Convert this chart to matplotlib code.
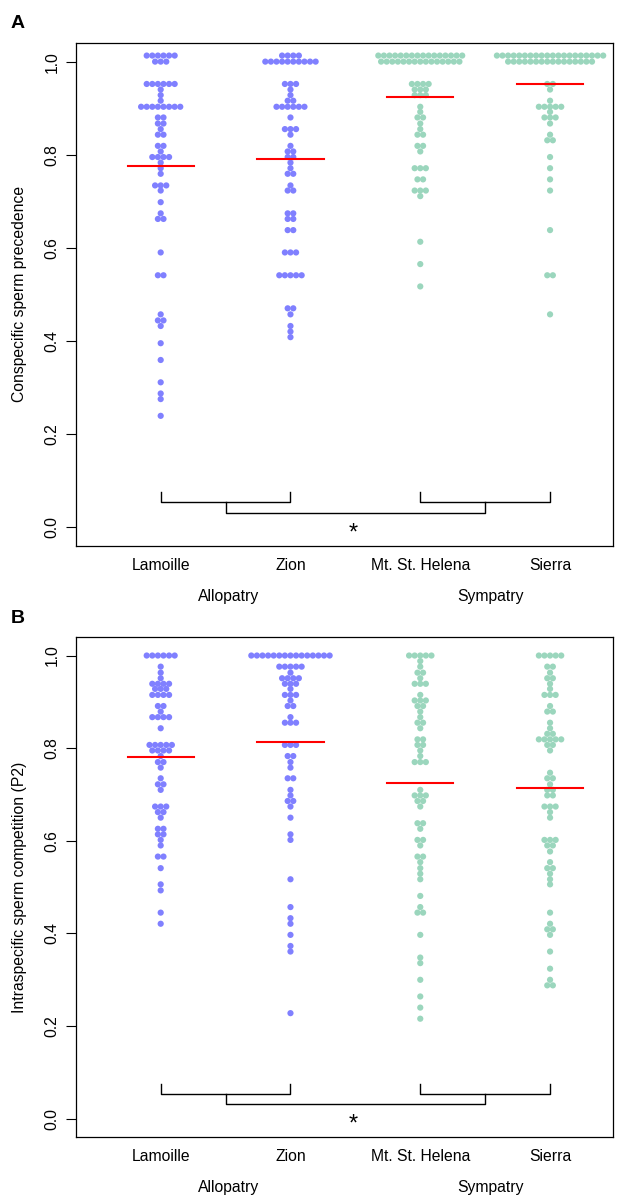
import numpy as np
import matplotlib
matplotlib.use("Agg")
import matplotlib.pyplot as plt

plt.rcParams['font.family'] = ['Liberation Sans', 'DejaVu Sans']

GROUPS = ["Lamoille", "Zion", "Mt. St. Helena", "Sierra"]
REGIONS = ["Allopatry", "Sympatry"]
BLUE = "#8080ff"
GREEN = "#9bd6bd"
COLORS = [BLUE, BLUE, GREEN, GREEN]

# Panel A - conspecific sperm precedence (y level of each swarm row, points in the row)
a_lamoille_y = [1.013, 1.000, 0.952, 0.940, 0.928, 0.916, 0.903, 0.880, 0.867, 0.855, 0.843,
                0.819, 0.807, 0.795, 0.783, 0.771, 0.759, 0.734, 0.723, 0.698, 0.674, 0.662,
                0.590, 0.541, 0.457, 0.444, 0.432, 0.395, 0.359, 0.311, 0.287, 0.275, 0.239]
a_lamoille_n = [6, 3, 6, 1, 1, 1, 8, 2, 2, 1, 2,
                2, 1, 4, 1, 1, 1, 3, 1, 1, 1, 2,
                1, 2, 1, 2, 1, 1, 1, 1, 1, 1, 1]
a_zion_y = [1.013, 1.000, 0.952, 0.940, 0.928, 0.916, 0.903, 0.880, 0.855, 0.843, 0.819,
            0.807, 0.795, 0.783, 0.771, 0.759, 0.734, 0.723, 0.674, 0.662, 0.638, 0.590,
            0.541, 0.470, 0.457, 0.432, 0.420, 0.408]
a_zion_n = [4, 10, 3, 1, 1, 2, 6, 1, 3, 1, 1,
            2, 2, 1, 1, 2, 1, 2, 2, 2, 2, 3,
            5, 2, 1, 1, 1, 1]
a_msh_y = [1.013, 1.000, 0.952, 0.940, 0.928, 0.903, 0.892, 0.880, 0.867, 0.855, 0.843,
           0.819, 0.807, 0.771, 0.747, 0.723, 0.711, 0.613, 0.565, 0.517]
a_msh_n = [16, 15, 4, 3, 3, 1, 1, 2, 1, 1, 2,
           2, 1, 3, 2, 3, 1, 1, 1, 1]
a_sierra_y = [1.013, 1.000, 0.952, 0.940, 0.916, 0.903, 0.892, 0.880, 0.867, 0.843, 0.831,
              0.795, 0.771, 0.747, 0.723, 0.638, 0.541, 0.457]
a_sierra_n = [20, 16, 2, 1, 1, 5, 1, 3, 1, 1, 2,
              1, 1, 1, 1, 1, 2, 1]
a_medians = [0.775, 0.791, 0.924, 0.951]

# Panel B - intraspecific sperm competition (P2)
b_lamoille_y = [1.000, 0.976, 0.963, 0.951, 0.939, 0.928, 0.915, 0.891, 0.879, 0.867, 0.843,
                0.807, 0.795, 0.783, 0.770, 0.758, 0.735, 0.722, 0.710, 0.674, 0.662, 0.650,
                0.626, 0.614, 0.602, 0.590, 0.566, 0.541, 0.506, 0.493, 0.445, 0.421]
b_lamoille_n = [6, 1, 1, 1, 4, 3, 4, 2, 1, 4, 1,
                5, 4, 1, 2, 1, 1, 2, 1, 3, 2, 1,
                2, 2, 1, 1, 2, 1, 1, 1, 1, 1]
b_zion_y = [1.000, 0.976, 0.963, 0.951, 0.939, 0.928, 0.915, 0.903, 0.891, 0.867, 0.855,
            0.807, 0.783, 0.770, 0.758, 0.735, 0.710, 0.698, 0.686, 0.674, 0.650, 0.614,
            0.602, 0.517, 0.457, 0.433, 0.421, 0.397, 0.373, 0.361, 0.228]
b_zion_n = [15, 5, 1, 4, 3, 1, 3, 1, 2, 1, 3,
            3, 2, 1, 1, 2, 1, 1, 2, 1, 1, 1,
            1, 1, 1, 1, 1, 1, 1, 1, 1]
b_msh_y = [1.000, 0.988, 0.976, 0.963, 0.951, 0.939, 0.915, 0.903, 0.891, 0.879, 0.867,
           0.855, 0.843, 0.819, 0.807, 0.795, 0.783, 0.770, 0.710, 0.698, 0.686, 0.674,
           0.638, 0.626, 0.602, 0.590, 0.566, 0.554, 0.541, 0.529, 0.517, 0.481, 0.457,
           0.445, 0.397, 0.348, 0.336, 0.300, 0.264, 0.240, 0.216]
b_msh_n = [5, 1, 1, 2, 1, 3, 1, 3, 2, 1, 1,
           2, 1, 2, 2, 1, 1, 3, 1, 3, 2, 1,
           2, 1, 2, 1, 2, 1, 1, 1, 1, 1, 1,
           2, 1, 1, 1, 1, 1, 1, 1]
b_sierra_y = [1.000, 0.976, 0.963, 0.951, 0.939, 0.928, 0.915, 0.891, 0.879, 0.855, 0.843,
              0.831, 0.819, 0.807, 0.795, 0.747, 0.735, 0.722, 0.710, 0.698, 0.674, 0.662,
              0.650, 0.602, 0.590, 0.577, 0.554, 0.541, 0.529, 0.517, 0.506, 0.445, 0.421,
              0.409, 0.397, 0.361, 0.324, 0.300, 0.288]
b_sierra_n = [5, 2, 1, 2, 1, 1, 3, 1, 2, 1, 1,
              2, 5, 2, 1, 1, 2, 1, 2, 2, 3, 1,
              1, 3, 2, 1, 1, 2, 1, 1, 1, 1, 1,
              2, 1, 1, 1, 1, 2]
b_medians = [0.780, 0.813, 0.725, 0.715]

DX = 0.0431        # horizontal spacing between neighbouring dots (x units)
XLIM = (0.3475, 4.485)
YLIM = (-0.04, 1.04)


def swarm(levels, counts, pos):
    xs, ys = [], []
    for y, n in zip(levels, counts):
        off = (np.arange(n) - (n - 1) / 2.0) * DX
        xs.extend(pos + off)
        ys.extend([y] * n)
    return xs, ys


def draw_panel(ax, levels, counts, medians, ylabel, letter):
    for i, (lv, ct) in enumerate(zip(levels, counts)):
        pos = i + 1
        xs, ys = swarm(lv, ct, pos)
        ax.scatter(xs, ys, s=20, color=COLORS[i], edgecolors='none', zorder=2)
        ax.plot([pos - 0.255, pos + 0.255], [medians[i]] * 2, color='red', lw=1.5, zorder=3)

    # significance brackets
    lw = 1.0
    for a, b in [(1, 2), (3, 4)]:
        ax.plot([a, a, b, b], [0.075, 0.054, 0.054, 0.075], color='black', lw=lw)
    ax.plot([1.5, 1.5, 3.5, 3.5], [0.054, 0.031, 0.031, 0.054], color='black', lw=lw)
    ax.text(2.48, -0.013, "*", ha='center', va='center', fontsize=17)

    ax.set_xlim(*XLIM)
    ax.set_ylim(*YLIM)
    ax.set_xticks([])
    ax.set_yticks(np.arange(0, 1.01, 0.2))
    ax.set_yticklabels(["%.1f" % t for t in np.arange(0, 1.01, 0.2)],
                       rotation=90, va='center')
    ax.tick_params(axis='y', length=7, width=0.8, pad=5, labelsize=11.3)
    for sp in ax.spines.values():
        sp.set_linewidth(0.9)

    for i, g in enumerate(GROUPS):
        ax.annotate(g, xy=(i + 1, 0), xycoords=('data', 'axes fraction'),
                    xytext=(0, -24), textcoords='offset pixels',
                    ha='center', va='baseline', fontsize=11.3)
    for x, r in zip([1.52, 3.54], REGIONS):
        ax.annotate(r, xy=(x, 0), xycoords=('data', 'axes fraction'),
                    xytext=(0, -55), textcoords='offset pixels',
                    ha='center', va='baseline', fontsize=11.3)
    ax.annotate(ylabel, xy=(0, 0.5), xycoords='axes fraction',
                xytext=(-56, 0), textcoords='offset pixels',
                rotation=90, ha='center', va='center', fontsize=11.3)
    ax.annotate(letter, xy=(0, 1), xycoords='axes fraction',
                xytext=(-58, 19), textcoords='offset pixels',
                ha='center', va='center', fontsize=14, fontweight='bold')


fig = plt.figure(figsize=(6.27, 12.01), dpi=100)
W, H = 627.0, 1201.0
ax_a = fig.add_axes([76 / W, 1 - 545.7 / H, (613 - 76) / W, (545.7 - 43) / H])
ax_b = fig.add_axes([76 / W, 1 - 1137.3 / H, (613 - 76) / W, (1137.3 - 637) / H])

draw_panel(ax_a,
           [a_lamoille_y, a_zion_y, a_msh_y, a_sierra_y],
           [a_lamoille_n, a_zion_n, a_msh_n, a_sierra_n],
           a_medians, "Conspecific sperm precedence", "A")
draw_panel(ax_b,
           [b_lamoille_y, b_zion_y, b_msh_y, b_sierra_y],
           [b_lamoille_n, b_zion_n, b_msh_n, b_sierra_n],
           b_medians, "Intraspecific sperm competition (P2)", "B")

fig.savefig("out.png", dpi=100)
